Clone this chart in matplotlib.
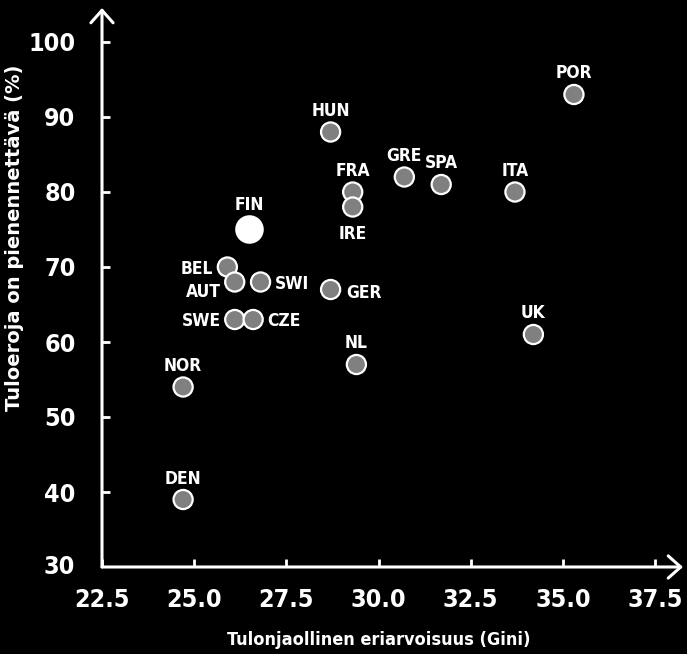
import matplotlib
matplotlib.use("Agg")
import matplotlib.pyplot as plt
import matplotlib.transforms as mtransforms
from matplotlib import font_manager
from matplotlib.font_manager import FontProperties

countries = ["POR", "HUN", "FRA", "IRE", "GRE", "SPA", "ITA", "UK", "NL", "GER",
             "FIN", "BEL", "AUT", "SWI", "SWE", "CZE", "NOR", "DEN"]
gini = [35.3, 28.7, 29.3, 29.3, 30.7, 31.7, 33.7, 34.2, 29.4, 28.7,
        26.5, 25.9, 26.1, 26.8, 26.1, 26.6, 24.7, 24.7]
reducible = [93, 88, 80, 78, 82, 81, 80, 61, 57, 67,
             75, 70, 68, 68, 63, 63, 54, 39]
label_side = ["top", "top", "top", "bottom", "top", "top", "top", "top", "top", "right",
              "fin", "left", "lowleft", "right", "left", "right", "top", "top"]
xticks = [22.5, 25.0, 27.5, 30.0, 32.5, 35.0, 37.5]
yticks = [30, 40, 50, 60, 70, 80, 90, 100]
xlabel = "Tulonjaollinen eriarvoisuus (Gini)"
ylabel = "Tuloeroja on pienennettävä (%)"


def find_condensed():
    best = None
    best_score = -1
    for f in font_manager.fontManager.ttflist:
        name = f.name.lower()
        path = f.fname.lower()
        st = str(f.stretch).lower()
        score = 0
        if "narrow" in name or "condensed" in name or "condensed" in path or "narrow" in path:
            score += 10
        elif st in ("condensed", "semi-condensed", "extra-condensed", "ultra-condensed") or \
                (isinstance(f.stretch, int) and f.stretch < 500):
            score += 10
        else:
            continue
        if "oblique" in path or "italic" in path or f.style != "normal":
            continue
        w = f.weight if isinstance(f.weight, int) else (700 if "bold" in str(f.weight) else 400)
        if "bold" in path:
            w = max(w, 700)
        if w >= 700:
            score += 3
        elif w >= 500:
            score += 2
        if "extra" in path or "ultra" in path or "semi" in path:
            score -= 1
        if score > best_score:
            best_score = score
            best = f.fname
    return best


cpath = find_condensed()
if cpath:
    def CF(size):
        return FontProperties(fname=cpath, size=size)
else:
    def CF(size):
        return FontProperties(family="DejaVu Sans", weight="bold", size=size * 0.85)

W, H = 687, 654
fig = plt.figure(figsize=(W / 100, H / 100), dpi=100, facecolor="black")
left, right, bottom, top = 102, 683, 567, 8
ax = fig.add_axes([left / W, (H - bottom) / H, (right - left) / W, (bottom - top) / H])
ax.set_facecolor("black")

x0 = 22.5
xpx = 36.87
x1 = x0 + (right - left) / xpx
y0 = 30
y1 = y0 + (bottom - top) / 7.5
ax.set_xlim(x0, x1)
ax.set_ylim(y0, y1)

for s in ax.spines.values():
    s.set_visible(False)

arrow = dict(arrowstyle="->,head_length=0.45,head_width=0.4", color="white", lw=2.2,
             mutation_scale=20, shrinkA=0, shrinkB=0)
ax.annotate("", xy=(1, 0), xytext=(0, 0), xycoords="axes fraction", arrowprops=arrow)
ax.annotate("", xy=(0, 1), xytext=(0, 0), xycoords="axes fraction", arrowprops=arrow)

ax.set_xticks(xticks)
ax.set_xticklabels([f"{v:.1f}" for v in xticks])
ax.set_yticks(yticks[1:])
ax.set_yticklabels([str(v) for v in yticks[1:]])
ax.tick_params(axis="both", direction="in", length=6, width=2, colors="white")
ax.tick_params(axis="x", pad=15)
ax.tick_params(axis="y", pad=19)
for lab in ax.get_xticklabels() + ax.get_yticklabels():
    lab.set_fontproperties(CF(18))
    lab.set_color("white")
t30 = ax.text(x0, 30, "30", ha="right", va="center", fontproperties=CF(18), color="white")
t30.set_transform(ax.transData + mtransforms.ScaledTranslation(-27 / 100, 0, fig.dpi_scale_trans))

fig.text((left + 655) / 2 / W, 1 - 640 / H, xlabel, ha="center", va="center",
         fontproperties=CF(13), color="white")
fig.text(15 / W, 1 - 238 / H, ylabel, rotation=90, ha="center", va="center",
         family=["DejaVu Sans"], fontsize=14, fontweight="bold", color="white")

colors = ["white" if c == "FIN" else "#808080" for c in countries]
sizes = [360 if c == "FIN" else 190 for c in countries]
ax.scatter(gini, reducible, s=sizes, c=colors, edgecolors="white", linewidths=1.6, zorder=3,
           clip_on=False)

px = 0.72  # points per pixel at 100 dpi
offsets = {"top": (0, 23, "center"), "bottom": (0, -25, "center"),
           "left": (-14, 0, "right"), "lowleft": (-14, -8, "right"),
           "right": (14, 0, "left"), "fin": (0, 26, "center")}
for c, xv, yv, side in zip(countries, gini, reducible, label_side):
    dx, dy, ha = offsets[side]
    if c == "GER":
        dx, dy = 16, -1
    ax.annotate(c, (xv, yv), xytext=(dx * px, dy * px), textcoords="offset points",
                ha=ha, va="center_baseline", fontproperties=CF(12.5), color="white", zorder=4)

fig.savefig("out.png", dpi=100, facecolor="black")
